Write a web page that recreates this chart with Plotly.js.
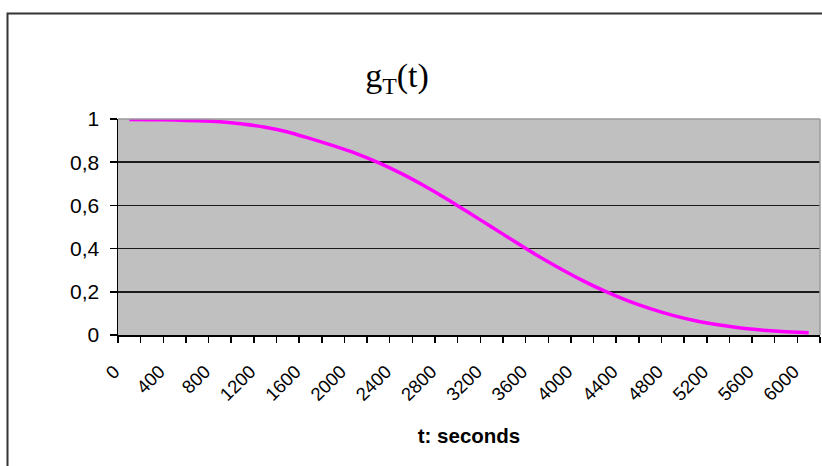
<!DOCTYPE html>
<html>
<head>
<meta charset="utf-8">
<script src="https://cdn.plot.ly/plotly-3.0.1.min.js"></script>
<style>
  html, body { margin: 0; padding: 0; background: #ffffff; }
  #chart { width: 822px; height: 466px; }
</style>
</head>
<body>
<div id="chart"></div>
<script>
// Time in seconds (one category every 200 s)
const tSeconds = [0, 200, 400, 600, 800, 1000, 1200, 1400, 1600, 1800,
                  2000, 2200, 2400, 2600, 2800, 3000, 3200, 3400, 3600, 3800,
                  4000, 4200, 4400, 4600, 4800, 5000, 5200, 5400, 5600, 5800, 6000];
// g_T(t) values
const gValues = [0.998, 0.997, 0.995, 0.992, 0.987, 0.977, 0.962, 0.940, 0.909, 0.877,
                 0.841, 0.798, 0.748, 0.692, 0.631, 0.566, 0.500, 0.434, 0.369, 0.309,
                 0.253, 0.203, 0.159, 0.122, 0.091, 0.066, 0.047, 0.032, 0.022, 0.015, 0.010];
// Axis tick labels
const xTickVals = [0, 400, 800, 1200, 1600, 2000, 2400, 2800, 3200, 3600, 4000, 4400, 4800, 5200, 5600, 6000];
const yTickVals = [0, 0.2, 0.4, 0.6, 0.8, 1];
const yTickText = ['0', '0,2', '0,4', '0,6', '0,8', '1'];

const sansFont = 'Liberation Sans, Arial, sans-serif';

const trace = {
  x: tSeconds,
  y: gValues,
  type: 'scatter',
  mode: 'lines',
  line: { color: '#FF00FF', width: 3.5, shape: 'spline', smoothing: 0.6 },
  hoverinfo: 'x+y'
};

const layout = {
  width: 822,
  height: 466,
  margin: { l: 118, r: 2, t: 119, b: 131, pad: 0 },
  paper_bgcolor: '#ffffff',
  plot_bgcolor: '#C0C0C0',
  showlegend: false,
  title: {
    text: 'g<sub>T</sub>(t)',
    font: { family: 'Liberation Serif, Times New Roman, serif', size: 34, color: '#000000' },
    xref: 'container', x: 397 / 822, xanchor: 'center',
    yref: 'container', y: 1 - 75 / 466, yanchor: 'middle'
  },
  xaxis: {
    range: [-100, 6100],
    tickmode: 'array',
    tickvals: xTickVals,
    ticktext: xTickVals.map(String),
    tickangle: -45,
    ticks: 'outside',
    ticklen: 6,
    tickcolor: 'rgba(0,0,0,0)',
    ticklabelstandoff: 11,
    ticklabelshift: -15,
    tickfont: { family: sansFont, size: 18.5, color: '#000000' },
    minor: { tickmode: 'linear', tick0: -100, dtick: 200, ticks: 'outside', ticklen: 6,
             tickcolor: '#000000', tickwidth: 1.5, showgrid: false },
    showline: true, linecolor: '#000000', linewidth: 1.5,
    showgrid: false, zeroline: false,
    title: {
      text: '<b>t: seconds</b>',
      font: { family: sansFont, size: 20.5, color: '#000000' },
      standoff: 24
    }
  },
  yaxis: {
    range: [0, 1],
    tickmode: 'array',
    tickvals: yTickVals,
    ticktext: yTickText,
    ticks: 'outside',
    ticklen: 7,
    tickwidth: 1.5,
    tickcolor: '#000000',
    ticklabelstandoff: 6,
    tickfont: { family: sansFont, size: 21, color: '#000000' },
    showline: true, linecolor: '#000000', linewidth: 1.5,
    showgrid: true, gridcolor: '#1a1a1a', gridwidth: 1.5,
    zeroline: false
  },
  shapes: [
    // plot-area border (top and right, grey)
    { type: 'line', xref: 'paper', yref: 'paper', x0: 0, x1: 1, y0: 1, y1: 1,
      line: { color: '#9a9a9a', width: 1.5 }, layer: 'above' },
    { type: 'line', xref: 'paper', yref: 'paper', x0: 1, x1: 1, y0: 0, y1: 1,
      line: { color: '#9a9a9a', width: 1.5 }, layer: 'above' },
    // chart-area frame
    { type: 'rect', xref: 'paper', yref: 'paper',
      x0: (7.5 - 118) / 702, x1: 1.2, y0: -1, y1: (335 - 13.5) / 216,
      line: { color: '#333333', width: 2 }, layer: 'above' }
  ]
};

Plotly.newPlot('chart', [trace], layout, { staticPlot: true, displayModeBar: false });
</script>
</body>
</html>
